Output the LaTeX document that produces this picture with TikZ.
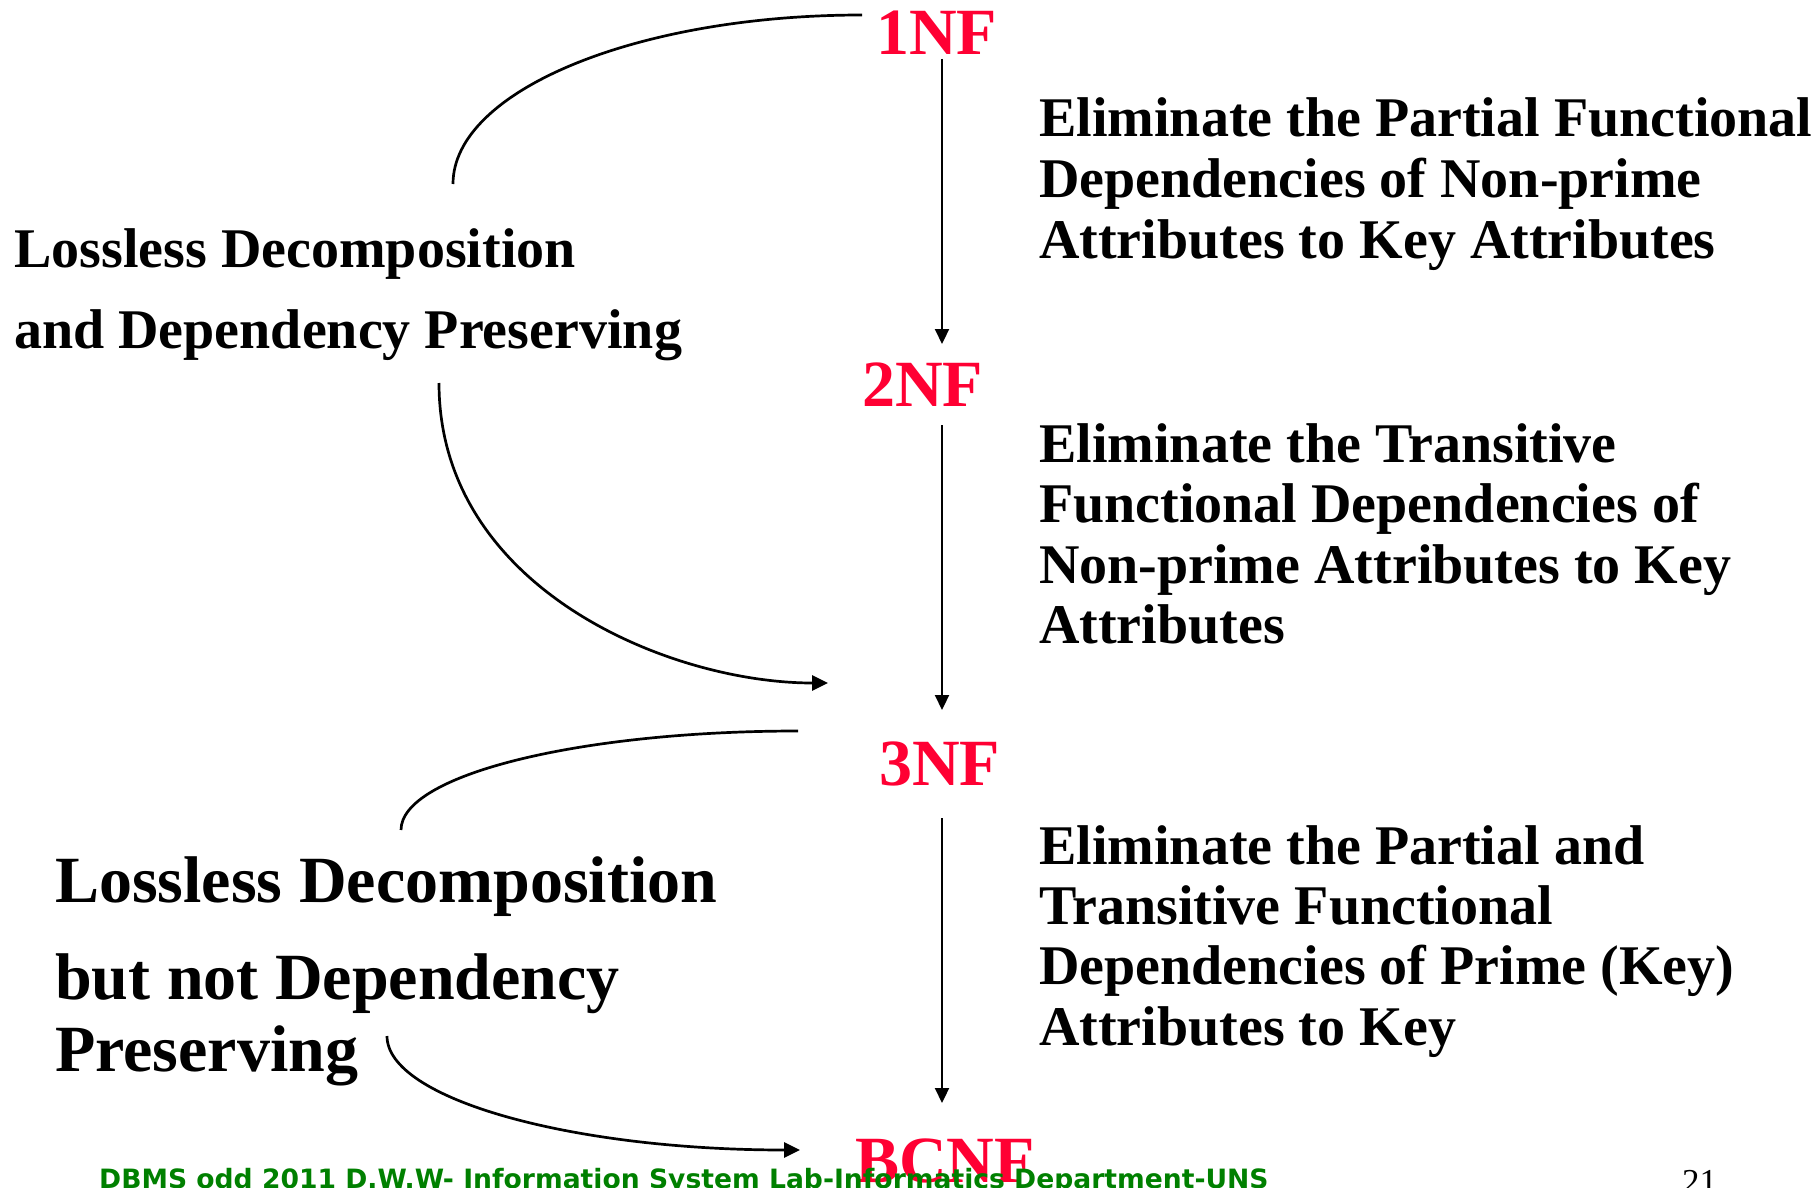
\documentclass[tikz,border=0pt]{standalone}
\usepackage{fontspec}
\setmainfont{Liberation Serif}
\newfontfamily\footfont{DejaVu Sans}
\usetikzlibrary{arrows.meta}
\definecolor{nfred}{RGB}{255,0,51}
\definecolor{footgreen}{RGB}{0,128,0}
\begin{document}
\begin{tikzpicture}[x=1pt,y=-1pt,
  nf/.style={inner sep=0pt, anchor=base west, text=nfred, font=\fontsize{66}{66}\selectfont\bfseries},
  body/.style={inner sep=0pt, anchor=base west, font=\fontsize{56}{60}\selectfont\bfseries},
  big/.style={inner sep=0pt, anchor=base west, font=\fontsize{66}{66}\selectfont\bfseries},
  varrow/.style={line width=2.2pt, -{Triangle[length=15pt,width=14pt]}},
  carrow/.style={line width=2.7pt, -{Triangle[length=16pt,width=15pt]}},
  cline/.style={line width=2.7pt},
]
\useasboundingbox (0,0) rectangle (1820,1188);
\clip (0,0) rectangle (1820,1188);

% normal form labels
\node[nf] (n1) at (876,55) {1NF};
\node[nf] (n2) at (862,406) {2NF};
\node[nf] (n3) at (879,785) {3NF};
\node[nf] (nb) at (855,1182) {BCNF};

% right explanations
\node[body] (r1a) at (1039,137) {Eliminate the Partial Functional};
\node[body] (r1b) at (1039,197) {Dependencies of Non-prime};
\node[body] (r1c) at (1039,258) {Attributes to Key Attributes};

\node[body] (r2a) at (1039,462) {Eliminate the Transitive};
\node[body] (r2b) at (1039,522) {Functional Dependencies of};
\node[body] (r2c) at (1039,583) {Non-prime Attributes to Key};
\node[body] (r2d) at (1039,643) {Attributes};

\node[body] (r3a) at (1039,864) {Eliminate the Partial and};
\node[body] (r3b) at (1039,924) {Transitive Functional};
\node[body] (r3c) at (1039,984) {Dependencies of Prime (Key)};
\node[body] (r3d) at (1039,1045) {Attributes to Key};

% left explanations
\node[body] (l1a) at (14,267) {Lossless Decomposition};
\node[body] (l1b) at (14,348) {and Dependency Preserving};

\node[big] (l2a) at (55,902) {Lossless Decomposition};
\node[big] (l2b) at (55,999) {but not Dependency};
\node[big] (l2c) at (55,1071) {Preserving};

% vertical arrows
\coordinate (v1s) at (942,59);  \coordinate (v1e) at (942,344);
\coordinate (v2s) at (942,425); \coordinate (v2e) at (942,710);
\coordinate (v3s) at (942,818); \coordinate (v3e) at (942,1103);
\draw[varrow] (v1s) -- (v1e);
\draw[varrow] (v2s) -- (v2e);
\draw[varrow] (v3s) -- (v3e);

% curved connectors
\coordinate (c1s) at (862,15);  \coordinate (c1e) at (453,184);
\coordinate (c2s) at (439,383); \coordinate (c2e) at (828,683);
\coordinate (c3s) at (798,731); \coordinate (c3e) at (401,830);
\coordinate (c4s) at (387,1036); \coordinate (c4e) at (800,1150);
\draw[cline] (c1s) .. controls (636,15) and (453,91) .. (c1e);
\draw[carrow] (c2s) .. controls (439,588) and (669,683) .. (c2e);
\draw[cline] (c3s) .. controls (579,731) and (401,775) .. (c3e);
\draw[carrow] (c4s) .. controls (387,1099) and (572,1150) .. (c4e);

% footer
\node[inner sep=0pt, anchor=base west, text=footgreen,
      font=\footfont\bfseries\fontsize{26.6}{26.6}\selectfont] (foot) at (99,1188)
  {DBMS odd 2011 D.W.W- Information System Lab-Informatics Department-UNS};
\node[inner sep=0pt, anchor=base west, font=\fontsize{35}{35}\selectfont] (pg) at (1682,1193) {21};
\end{tikzpicture}
\end{document}
